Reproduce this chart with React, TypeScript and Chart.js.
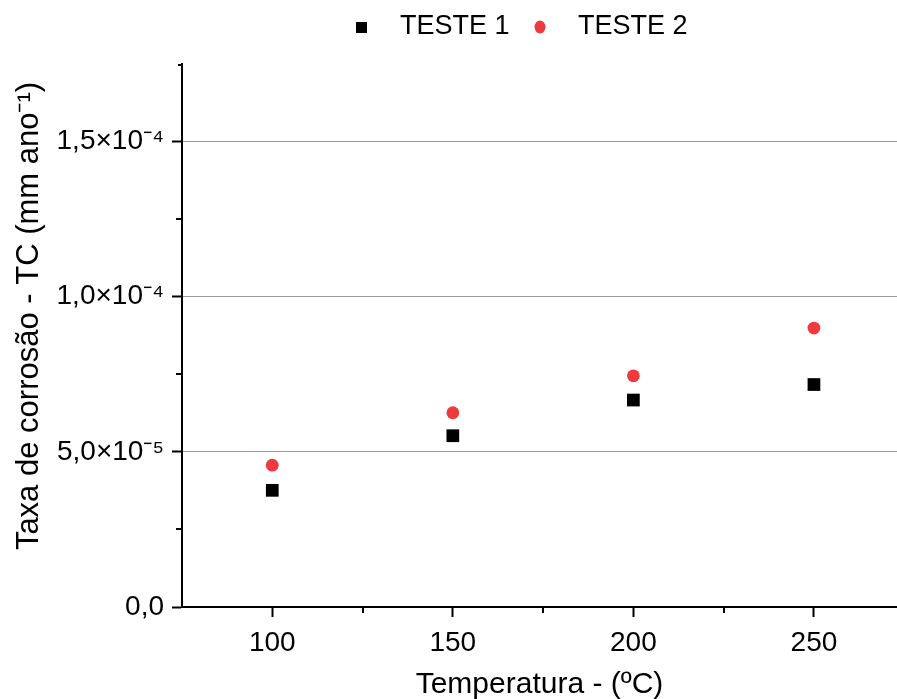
import React, { useEffect, useRef } from "react";
import { Chart, registerables } from "chart.js";

Chart.register(...registerables);

const SERIES_NAMES = ["TESTE 1", "TESTE 2"];
const X_VALUES = [100, 150, 200, 250];
const TESTE1 = [3.76e-5, 5.52e-5, 6.67e-5, 7.17e-5];
const TESTE2 = [4.57e-5, 6.26e-5, 7.45e-5, 8.99e-5];
const X_TICKS = [100, 150, 200, 250];
const X_MINOR = [125, 175, 225];
const Y_TICKS = [0, 5e-5, 1e-4, 1.5e-4];
const Y_TICK_LABELS = ["0,0", "5,0×10⁻⁵", "1,0×10⁻⁴", "1,5×10⁻⁴"];
const Y_MINOR = [2.5e-5, 7.5e-5, 1.25e-4];
const X_TITLE = "Temperatura - (ºC)";
const Y_TITLE = "Taxa de corrosão - TC (mm ano⁻¹)";

const FONT = '"Liberation Sans", Arial, sans-serif';
const BLACK = "#000000";
const RED = "#EE3A3D";

const extras = {
  id: "extras",
  afterDraw(chart: any) {
    const ctx = chart.ctx;
    const xs = chart.scales.x;
    const ys = chart.scales.y;
    const area = chart.chartArea;
    ctx.save();
    ctx.strokeStyle = BLACK;
    ctx.lineWidth = 2;
    ctx.beginPath();
    X_MINOR.forEach((v) => {
      const px = Math.round(xs.getPixelForValue(v));
      ctx.moveTo(px, area.bottom);
      ctx.lineTo(px, area.bottom + 6);
    });
    Y_MINOR.forEach((v) => {
      const py = Math.round(ys.getPixelForValue(v));
      ctx.moveTo(area.left - 6, py);
      ctx.lineTo(area.left, py);
    });
    ctx.moveTo(area.left - 4, area.top + 1);
    ctx.lineTo(area.left, area.top + 1);
    ctx.stroke();

    // y axis title
    ctx.save();
    ctx.translate(29, 316);
    ctx.rotate(-Math.PI / 2);
    ctx.font = `31px ${FONT}`;
    ctx.textAlign = "center";
    ctx.textBaseline = "middle";
    ctx.fillStyle = BLACK;
    ctx.fillText(Y_TITLE, 0, 0);
    ctx.restore();

    // legend
    const ly = 27;
    ctx.font = `27px ${FONT}`;
    ctx.textBaseline = "middle";
    ctx.textAlign = "left";
    ctx.fillStyle = BLACK;
    ctx.fillRect(356, ly - 5, 11, 11);
    ctx.fillText(SERIES_NAMES[0], 400, ly);
    ctx.fillStyle = RED;
    ctx.beginPath();
    ctx.ellipse(540, ly, 5.5, 6.5, 0, 0, Math.PI * 2);
    ctx.fill();
    ctx.fillStyle = BLACK;
    ctx.fillText(SERIES_NAMES[1], 578, ly);
    ctx.restore();
  },
};

export default function App() {
  const ref = useRef<HTMLCanvasElement>(null);
  useEffect(() => {
    if (!ref.current) return;
    const chart = new Chart(ref.current, {
      type: "scatter",
      data: {
        datasets: [
          {
            label: SERIES_NAMES[0],
            data: X_VALUES.map((x, i) => ({ x, y: TESTE1[i] })),
            pointStyle: "rect",
            pointRadius: 9,
            backgroundColor: BLACK,
            borderWidth: 0,
          },
          {
            label: SERIES_NAMES[1],
            data: X_VALUES.map((x, i) => ({ x, y: TESTE2[i] })),
            pointStyle: "circle",
            pointRadius: 6.4,
            backgroundColor: RED,
            borderWidth: 0,
          },
        ],
      },
      options: {
        animation: false,
        responsive: false,
        layout: { autoPadding: false, padding: { top: 64, right: 0, left: 0, bottom: 0 } },
        plugins: {
          legend: { display: false },
          tooltip: { enabled: false },
        },
        scales: {
          x: {
            type: "linear",
            min: 75,
            max: 273,
            afterBuildTicks: (s: any) => {
              s.ticks = X_TICKS.map((v) => ({ value: v }));
            },
            afterFit: (s: any) => {
              s.height = 92;
              s.paddingLeft = 0;
              s.paddingRight = 0;
            },
            ticks: {
              color: BLACK,
              font: { size: 28, family: FONT },
              padding: 9,
              maxRotation: 0,
              callback: (v: any) => String(v),
            },
            grid: {
              drawOnChartArea: false,
              tickLength: 10,
              tickColor: BLACK,
              tickWidth: 2,
            },
            border: { color: BLACK, width: 2 },
            title: {
              display: true,
              text: X_TITLE,
              color: BLACK,
              font: { size: 30, family: FONT },
              padding: { top: 0, bottom: -4 },
            },
          },
          y: {
            type: "linear",
            min: 0,
            max: 1.75e-4,
            afterBuildTicks: (s: any) => {
              s.ticks = Y_TICKS.map((v) => ({ value: v }));
            },
            afterFit: (s: any) => {
              s.width = 182;
              s.paddingTop = 0;
              s.paddingBottom = 0;
            },
            ticks: {
              color: BLACK,
              font: { size: 28, family: FONT },
              padding: 8,
              callback: (_v: any, i: number) => Y_TICK_LABELS[i],
            },
            grid: {
              color: (c: any) =>
                c.tick && c.tick.value === 0 ? "rgba(0,0,0,0)" : "#9a9a9a",
              lineWidth: 1,
              tickLength: 10,
              tickColor: BLACK,
              tickWidth: 2,
            },
            border: { color: BLACK, width: 2 },
            title: { display: false, text: Y_TITLE },
          },
        },
      },
      plugins: [extras],
    });
    return () => chart.destroy();
  }, []);
  return (
    <div style={{ position: "absolute", left: 0, top: 0, width: 897, height: 699, background: "#fff" }}>
      <canvas ref={ref} width={897} height={699} style={{ display: "block" }} />
    </div>
  );
}
